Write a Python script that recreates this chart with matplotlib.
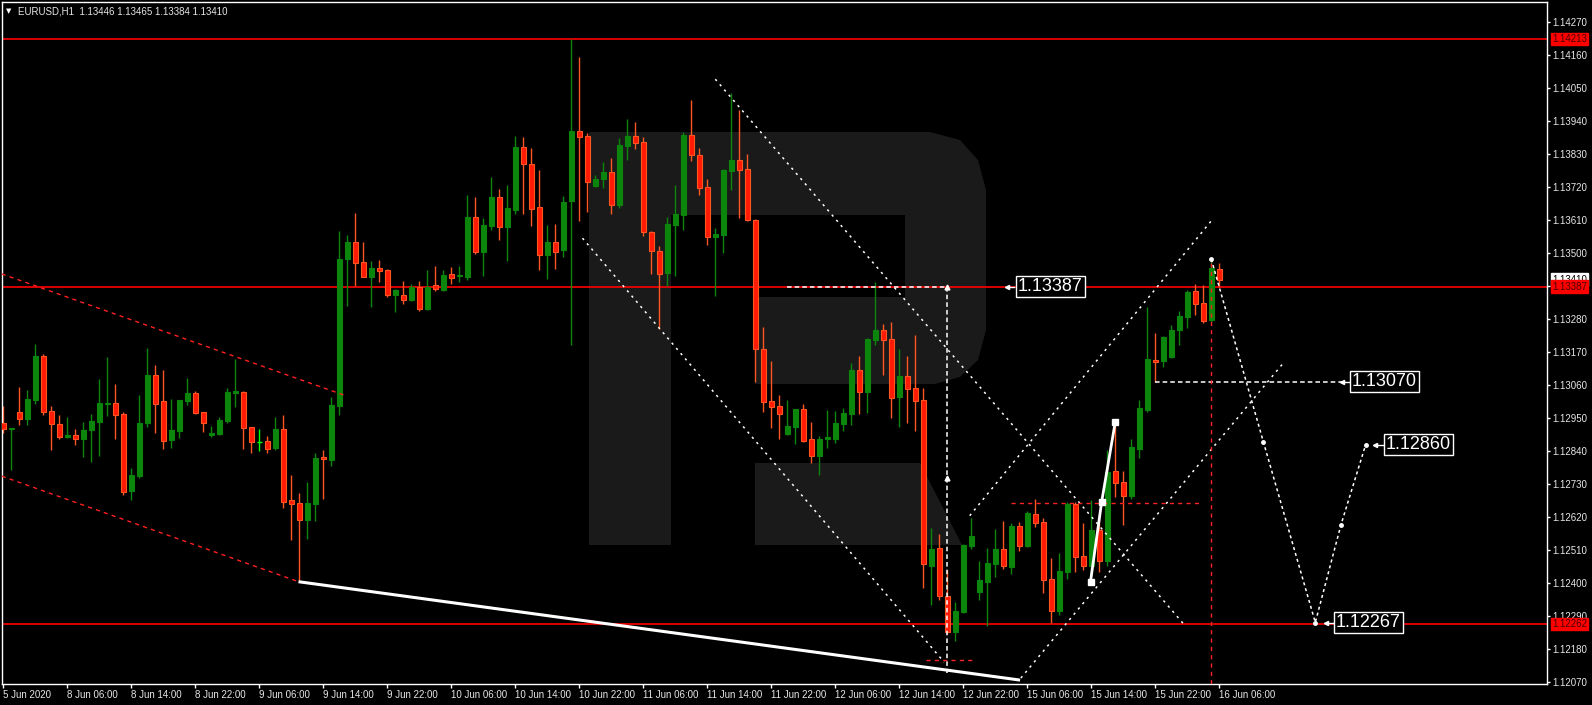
import matplotlib
matplotlib.use('Agg')
import matplotlib.pyplot as plt
from matplotlib.patches import Polygon

# EURUSD H1 bars, first bar is 5 Jun 2020 22:00 (weekend hours skipped)
opens = [1.12932, 1.12912, 1.12968, 1.12946, 1.13009, 1.13155, 1.12971, 1.12929, 1.12885, 1.12892,
         1.12880, 1.12910, 1.12936, 1.12995, 1.12999, 1.12962, 1.12706, 1.12755, 1.12932, 1.13092,
         1.13005, 1.12875, 1.12905, 1.13006, 1.13032, 1.12969, 1.12891, 1.12896, 1.12939, 1.13033,
         1.13035, 1.12919, 1.12868, 1.12872, 1.12849, 1.12912, 1.12675, 1.12665, 1.12610, 1.12663,
         1.12815, 1.12809, 1.12990, 1.13479, 1.13535, 1.13469, 1.13420, 1.13449, 1.13442, 1.13360,
         1.13359, 1.13343, 1.13386, 1.13313, 1.13392, 1.13376, 1.13429, 1.13421, 1.13419, 1.13619,
         1.13502, 1.13590, 1.13685, 1.13586, 1.13643, 1.13852, 1.13795, 1.13652, 1.13493, 1.13535,
         1.13510, 1.13673, 1.13905, 1.13888, 1.13723, 1.13746, 1.13769, 1.13660, 1.13856, 1.13889,
         1.13869, 1.13569, 1.13505, 1.13433, 1.13593, 1.13626, 1.13892, 1.13825, 1.13719, 1.13551,
         1.13560, 1.13773, 1.13809, 1.13779, 1.13610, 1.13179, 1.13005, 1.12989, 1.12896, 1.12920,
         1.12979, 1.12879, 1.12823, 1.12880, 1.12880, 1.12930, 1.12963, 1.13109, 1.13036, 1.13209,
         1.13242, 1.13212, 1.13020, 1.13089, 1.13049, 1.13009, 1.12456, 1.12514, 1.12356, 1.12236,
         1.12303, 1.12523, 1.12370, 1.12403, 1.12463, 1.12512, 1.12453, 1.12589, 1.12523, 1.12629,
         1.12602, 1.12412, 1.12306, 1.12436, 1.12663, 1.12489, 1.12456, 1.12575, 1.12472, 1.12772,
         1.12735, 1.12690, 1.12846, 1.12975, 1.13139, 1.13140, 1.13153, 1.13242, 1.13286, 1.13372,
         1.13332, 1.13275, 1.13446]
highs = [1.12989, 1.12915, 1.13053, 1.13042, 1.13195, 1.13162, 1.12989, 1.12959, 1.12952, 1.12912,
         1.12935, 1.12963, 1.13079, 1.13152, 1.13062, 1.12969, 1.12781, 1.13025, 1.13182, 1.13124,
         1.13109, 1.13012, 1.13009, 1.13082, 1.13039, 1.12969, 1.12922, 1.12952, 1.13049, 1.13145,
         1.13039, 1.12919, 1.12912, 1.12889, 1.12952, 1.12959, 1.12759, 1.12699, 1.12736, 1.12832,
         1.12842, 1.13019, 1.13572, 1.13559, 1.13633, 1.13535, 1.13472, 1.13475, 1.13446, 1.13379,
         1.13405, 1.13395, 1.13405, 1.13442, 1.13455, 1.13442, 1.13452, 1.13455, 1.13692, 1.13685,
         1.13615, 1.13752, 1.13712, 1.13725, 1.13889, 1.13885, 1.13849, 1.13775, 1.13592, 1.13595,
         1.13689, 1.14213, 1.14152, 1.13898, 1.13760, 1.13802, 1.13815, 1.13882, 1.13945, 1.13935,
         1.13885, 1.13572, 1.13522, 1.13619, 1.13725, 1.13902, 1.14009, 1.13849, 1.13745, 1.13582,
         1.13779, 1.14032, 1.13975, 1.13829, 1.13612, 1.13252, 1.13139, 1.13025, 1.13009, 1.12979,
         1.12995, 1.12935, 1.12889, 1.12975, 1.12972, 1.12982, 1.13132, 1.13155, 1.13215, 1.13402,
         1.13262, 1.13269, 1.13179, 1.13155, 1.13225, 1.13048, 1.12582, 1.12562, 1.12442, 1.12335,
         1.12529, 1.12615, 1.12472, 1.12515, 1.12579, 1.12605, 1.12599, 1.12602, 1.12639, 1.12679,
         1.12615, 1.12482, 1.12499, 1.12670, 1.12670, 1.12599, 1.12675, 1.12615, 1.12842, 1.12936,
         1.12773, 1.12879, 1.13009, 1.13319, 1.13232, 1.13222, 1.13259, 1.13305, 1.13375, 1.13395,
         1.13392, 1.13482, 1.13465]
lows = [1.12899, 1.12775, 1.12926, 1.12926, 1.12995, 1.12960, 1.12842, 1.12880, 1.12882, 1.12860,
        1.12820, 1.12803, 1.12823, 1.12956, 1.12880, 1.12693, 1.12676, 1.12750, 1.12920, 1.12900,
        1.12846, 1.12850, 1.12883, 1.12993, 1.12962, 1.12903, 1.12886, 1.12893, 1.12933, 1.12986,
        1.12846, 1.12833, 1.12840, 1.12833, 1.12842, 1.12650, 1.12543, 1.12403, 1.12546, 1.12606,
        1.12680, 1.12790, 1.12960, 1.13322, 1.13389, 1.13419, 1.13319, 1.13402, 1.13353, 1.13303,
        1.13330, 1.13340, 1.13306, 1.13310, 1.13373, 1.13373, 1.13395, 1.13402, 1.13409, 1.13495,
        1.13422, 1.13576, 1.13543, 1.13472, 1.13630, 1.13630, 1.13590, 1.13443, 1.13413, 1.13446,
        1.13486, 1.13192, 1.13606, 1.13636, 1.13720, 1.13716, 1.13630, 1.13650, 1.13810, 1.13846,
        1.13556, 1.13430, 1.13244, 1.13390, 1.13423, 1.13576, 1.13806, 1.13693, 1.13526, 1.13356,
        1.13500, 1.13710, 1.13616, 1.13606, 1.13070, 1.12970, 1.12916, 1.12880, 1.12893, 1.12863,
        1.12870, 1.12800, 1.12760, 1.12850, 1.12866, 1.12906, 1.12926, 1.12963, 1.12966, 1.13193,
        1.13093, 1.12950, 1.12920, 1.12933, 1.12906, 1.12383, 1.12326, 1.12343, 1.12229, 1.12206,
        1.12300, 1.12512, 1.12343, 1.12257, 1.12420, 1.12446, 1.12430, 1.12506, 1.12520, 1.12586,
        1.12366, 1.12264, 1.12293, 1.12413, 1.12436, 1.12443, 1.12400, 1.12435, 1.12455, 1.12686,
        1.12593, 1.12680, 1.12816, 1.12969, 1.13070, 1.13120, 1.13150, 1.13193, 1.13250, 1.13293,
        1.13266, 1.13269, 1.13384]
closes = [1.12912, 1.12915, 1.12946, 1.13012, 1.13155, 1.12970, 1.12928, 1.12885, 1.12892, 1.12880,
          1.12909, 1.12939, 1.12999, 1.13000, 1.12960, 1.12703, 1.12759, 1.12932, 1.13092, 1.12996,
          1.12873, 1.12909, 1.13009, 1.13032, 1.12966, 1.12931, 1.12899, 1.12942, 1.13035, 1.13039,
          1.12916, 1.12870, 1.12869, 1.12846, 1.12912, 1.12670, 1.12663, 1.12610, 1.12665, 1.12815,
          1.12813, 1.12992, 1.13479, 1.13535, 1.13466, 1.13420, 1.13449, 1.13440, 1.13360, 1.13375,
          1.13343, 1.13386, 1.13313, 1.13386, 1.13380, 1.13425, 1.13416, 1.13422, 1.13619, 1.13502,
          1.13592, 1.13685, 1.13586, 1.13649, 1.13852, 1.13796, 1.13646, 1.13493, 1.13535, 1.13503,
          1.13669, 1.13905, 1.13886, 1.13736, 1.13745, 1.13769, 1.13660, 1.13859, 1.13889, 1.13866,
          1.13568, 1.13504, 1.13430, 1.13595, 1.13629, 1.13892, 1.13826, 1.13716, 1.13551, 1.13562,
          1.13775, 1.13809, 1.13776, 1.13610, 1.13178, 1.13003, 1.12986, 1.12963, 1.12922, 1.12979,
          1.12873, 1.12823, 1.12879, 1.12881, 1.12932, 1.12965, 1.13109, 1.13036, 1.13212, 1.13242,
          1.13210, 1.13016, 1.13089, 1.13046, 1.13006, 1.12461, 1.12512, 1.12356, 1.12236, 1.12305,
          1.12525, 1.12555, 1.12409, 1.12465, 1.12512, 1.12456, 1.12589, 1.12523, 1.12632, 1.12600,
          1.12410, 1.12306, 1.12439, 1.12663, 1.12486, 1.12456, 1.12575, 1.12472, 1.12768, 1.12733,
          1.12690, 1.12852, 1.12982, 1.13145, 1.13137, 1.13220, 1.13242, 1.13289, 1.13369, 1.13330,
          1.13273, 1.13449, 1.13410]
doji_bar = 32  # drawn in the bright line colour

price_ticks = [1.14270, 1.14160, 1.14050, 1.13940, 1.13830, 1.13720, 1.13610, 1.13500, 1.13390,
               1.13280, 1.13170, 1.13060, 1.12950, 1.12840, 1.12730, 1.12620, 1.12510, 1.12400,
               1.12290, 1.12180, 1.12070]
time_ticks = list(range(0, 153, 8))
time_labels = ['5 Jun 2020', '8 Jun 06:00', '8 Jun 14:00', '8 Jun 22:00', '9 Jun 06:00',
               '9 Jun 14:00', '9 Jun 22:00', '10 Jun 06:00', '10 Jun 14:00', '10 Jun 22:00',
               '11 Jun 06:00', '11 Jun 14:00', '11 Jun 22:00', '12 Jun 06:00', '12 Jun 14:00',
               '12 Jun 22:00', '15 Jun 06:00', '15 Jun 14:00', '15 Jun 22:00', '16 Jun 06:00']

level_prices = [1.14213, 1.13387, 1.12262]
level_labels = ['1.14213', '1.13387', '1.12262']
last_price = 1.13410

target_texts = ['1.13387', '1.13070', '1.12860', '1.12267']
target_prices = [1.13387, 1.13070, 1.12860, 1.12267]
target_bars = [126.8, 168.6, 172.8, 166.6]

# analysis lines as (bars, prices)
red_top = ([-0.2, 42.9], [1.13429, 1.13022])
red_bottom = ([-0.2, 36.9], [1.12755, 1.12403])
support = ([36.9, 127.1], [1.12403, 1.12075])
fall_1 = ([72.4, 117.6], [1.13548, 1.12135])
fall_2 = ([89.0, 147.8], [1.14078, 1.12254])
rise_1 = ([127.2, 160.1], [1.12082, 1.13135])
rise_2 = ([120.8, 151.0], [1.12623, 1.13606])
hline_white_1 = ([97.9, 118.0], [1.13387, 1.13387])
hline_white_2 = ([144.0, 167.7], [1.13070, 1.13070])
vline_white = ([118.0, 118.0], [1.13387, 1.12100])
vline_marks = [1.13387, 1.12749]
hline_red_1 = ([125.9, 149.6], [1.12665, 1.12665])
hline_red_2 = ([115.3, 121.1], [1.12142, 1.12142])
vline_red = ([151.0, 151.0], [1.13465, 1.12000])
forecast_bars = [151.0, 157.5, 164.0, 167.2, 170.3]
forecast_prices = [1.13478, 1.12870, 1.12267, 1.12592, 1.12860]
zigzag_bars = [135.9, 137.3, 139.0]
zigzag_prices = [1.12403, 1.12670, 1.12936]

W, H = 1592, 705
AX_L, AX_R, AX_T, AX_B = 2, 1547, 2, 684
BAR0_X, BAR_PX = 3.3, 8.0
PX_PER_PRICE = 30000.0
PRICE_AT_0 = 1.14342

BULL = '#0b850b'
BEAR_FILL = '#ff1a05'
BEAR_EDGE = '#ff5522'
TXT = '#e6e6e6'
WM = '#1a1a1a'
FONT = 'Liberation Sans'


def px_fig(x, y):
    return (x / W, 1 - y / H)


def draw_watermark(fig, ax):
    shapes = [
        [(589, 132), (671, 132), (671, 545), (589, 545)],
        [(671, 132), (930, 132), (960, 140), (978, 160), (986, 190), (986, 330), (978, 360),
         (960, 377), (935, 384), (755, 384), (755, 297), (905, 297), (905, 215), (671, 215)],
        [(755, 463), (920, 463), (962, 545), (755, 545)],
    ]
    for pts in shapes:
        poly = Polygon([px_fig(x, y) for x, y in pts], closed=True, facecolor=WM,
                       edgecolor='none', transform=fig.transFigure, zorder=0.5)
        ax.add_patch(poly)


def plot_chart():
    fig = plt.figure(figsize=(W / 100, H / 100), dpi=100, facecolor='black')
    ax = fig.add_axes([AX_L / W, (H - AX_B) / H, (AX_R - AX_L) / W, (AX_B - AX_T) / H])
    ax.set_facecolor('black')

    x_lo = (AX_L - BAR0_X) / BAR_PX
    x_hi = (AX_R - BAR0_X) / BAR_PX
    y_hi = PRICE_AT_0 - AX_T / PX_PER_PRICE
    y_lo = PRICE_AT_0 - AX_B / PX_PER_PRICE
    ax.set_xlim(x_lo, x_hi)
    ax.set_ylim(y_lo, y_hi)

    draw_watermark(fig, ax)

    # level lines
    for p in level_prices:
        ax.axhline(p, color='#ff0000', lw=1.2, zorder=1)

    # candles
    min_body = 1.2 / PX_PER_PRICE
    for i, (o, h, l, c) in enumerate(zip(opens, highs, lows, closes)):
        bull = c >= o
        if i == doji_bar:
            ax.vlines(i, l, h, color='#00ff00', lw=1, zorder=3)
            ax.hlines(c, i - 0.3, i + 0.3, color='#00ff00', lw=1, zorder=3)
            continue
        wick = BULL if bull else BEAR_EDGE
        ax.vlines(i, l, h, color=wick, lw=1, zorder=2)
        ax.bar(i, max(abs(c - o), min_body), bottom=min(o, c), width=0.62,
               color=BULL if bull else BEAR_FILL, edgecolor=BULL if bull else BEAR_EDGE,
               linewidth=0.8, zorder=3)

    # red dashed channel and support line
    for xs, ys in (red_top, red_bottom):
        ax.plot(xs, ys, color='#ff2020', lw=1, linestyle=(0, (3, 3)), zorder=4)
    ax.plot(*support, color='white', lw=2.2, zorder=4, solid_capstyle='butt')

    dotted = (0, (1.5, 3))
    for xs, ys in (fall_1, fall_2, rise_1, rise_2):
        ax.plot(xs, ys, color='white', lw=1.1, linestyle=dotted, zorder=4)
    for xs, ys in (hline_white_1, hline_white_2, vline_white):
        ax.plot(xs, ys, color='white', lw=1.1, linestyle=(0, (3, 2)), zorder=4)
    ax.plot([vline_white[0][0]] * len(vline_marks), vline_marks, linestyle='none',
            marker='^', ms=3.5, color='white', zorder=5)
    for xs, ys in (hline_red_1, hline_red_2, vline_red):
        ax.plot(xs, ys, color='#ff2020', lw=1, linestyle=(0, (3, 3)), zorder=4)

    ax.plot(forecast_bars, forecast_prices, color='white', lw=1.1, linestyle=(0, (2, 2)), zorder=5)
    ax.plot(forecast_bars, forecast_prices, linestyle='none', marker='o',
            ms=2.5, color='white', zorder=5)
    ax.plot(zigzag_bars, zigzag_prices, color='white', lw=2, zorder=5)
    ax.plot(zigzag_bars, zigzag_prices, linestyle='none', marker='s', ms=4,
            color='white', zorder=5)

    # target labels
    for t, p, b in zip(target_texts, target_prices, target_bars):
        ax.plot([b - 1.3, b - 0.4], [p, p], color='white', lw=1, zorder=5)
        ax.plot(b - 1.3, p, marker='<', ms=3, color='white', zorder=5)
        ax.text(b, p, t, color='white', fontsize=13, family=FONT, ha='left', va='center',
                zorder=6, bbox=dict(boxstyle='square,pad=0.12', facecolor='black',
                                    edgecolor='white', linewidth=1))

    # axes styling
    for s in ax.spines.values():
        s.set_color('white')
        s.set_linewidth(1)
    ax.yaxis.tick_right()
    ax.set_yticks(price_ticks)
    ax.set_yticklabels(['%.5f' % p for p in price_ticks])
    ax.set_xticks(time_ticks)
    ax.set_xticklabels(time_labels, ha='left')
    ax.tick_params(axis='y', colors='white', labelcolor=TXT, length=2.5, width=1,
                   pad=1.5, labelsize=7)
    ax.tick_params(axis='x', colors='white', labelcolor=TXT, length=3, width=1,
                   pad=1.5, labelsize=7)
    for lab in ax.get_xticklabels() + ax.get_yticklabels():
        lab.set_family(FONT)

    # price flags on the right scale
    ytr = ax.get_yaxis_transform()
    ax.text(1.0033, last_price, '%.5f' % last_price, transform=ytr, fontsize=7, family=FONT,
            color='black', va='center', ha='left', clip_on=False, zorder=7,
            bbox=dict(boxstyle='square,pad=0.12', facecolor='white', edgecolor='white'))
    for p, lab in zip(level_prices, level_labels):
        ax.text(1.0033, p, lab, transform=ytr, fontsize=7, family=FONT, color='#4a0000',
                va='center', ha='left', clip_on=False, zorder=8,
                bbox=dict(boxstyle='square,pad=0.12', facecolor='#ff0000', edgecolor='#ff0000'))

    # header
    fig.text(6 / W, 1 - 11 / H, '\u25bc', color='white', fontsize=5, family='DejaVu Sans',
             va='center', ha='left')
    fig.text(18 / W, 1 - 11 / H, 'EURUSD,H1  1.13446 1.13465 1.13384 1.13410', color=TXT,
             fontsize=7, family=FONT, va='center', ha='left')

    fig.savefig('out.png', dpi=100, facecolor='black')


if __name__ == '__main__':
    plot_chart()
